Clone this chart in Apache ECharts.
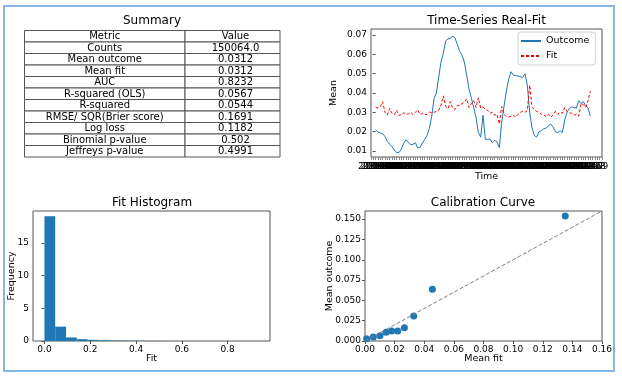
<!DOCTYPE html>
<html>
<head>
<meta charset="utf-8">
<script src="https://cdn.jsdelivr.net/npm/echarts@6/dist/echarts.min.js"></script>
<style>
  html, body { margin: 0; padding: 0; background: #fff; }
  #chart { width: 622px; height: 377px; }
</style>
</head>
<body>
<div id="chart"></div>
<script>
// summary table
var metricNames = ["Metric", "Counts", "Mean outcome", "Mean fit", "AUC", "R-squared (OLS)", "R-squared",
  "RMSE/ SQR(Brier score)", "Log loss", "Binomial p-value", "Jeffreys p-value"];
var metricValues = ["Value", "150064.0", "0.0312", "0.0312", "0.8232", "0.0567", "0.0544",
  "0.1691", "0.1182", "0.502", "0.4991"];

// time series (monthly buckets)
var tsDates = [
  "2016-01","2016-02","2016-03","2016-04","2016-05","2016-06","2016-07","2016-08","2016-09","2016-10","2016-11","2016-12",
  "2017-01","2017-02","2017-03","2017-04","2017-05","2017-06","2017-07","2017-08","2017-09","2017-10","2017-11","2017-12",
  "2018-01","2018-02","2018-03","2018-04","2018-05","2018-06","2018-07","2018-08","2018-09","2018-10","2018-11","2018-12",
  "2019-01","2019-02","2019-03","2019-04","2019-05","2019-06","2019-07","2019-08","2019-09","2019-10","2019-11","2019-12",
  "2020-01","2020-02","2020-03","2020-04","2020-05","2020-06","2020-07","2020-08","2020-09","2020-10","2020-11","2020-12",
  "2021-01","2021-02","2021-03","2021-04","2021-05","2021-06","2021-07","2021-08","2021-09","2021-10","2021-11","2021-12",
  "2022-01","2022-02","2022-03","2022-04","2022-05","2022-06","2022-07","2022-08","2022-09","2022-10","2022-11","2022-12",
  "2023-01","2023-02","2023-03","2023-04","2023-05","2023-06","2023-07","2023-08","2023-09"
];
var tsOutcome = [
  0.0209,0.0198,0.0193,0.0190,0.0174,0.0150,0.0135,0.0122,0.0105,0.0092,
  0.0093,0.0108,0.0140,0.0158,0.0145,0.0132,0.0135,0.0143,0.0117,0.0118,
  0.0140,0.0160,0.0180,0.0217,0.0277,0.0370,0.0400,0.0480,0.0560,0.0605,
  0.0670,0.0680,0.0682,0.0695,0.0685,0.0650,0.0615,0.0595,0.0560,0.0493,
  0.0420,0.0375,0.0325,0.0275,0.0195,0.0172,0.0285,0.0160,0.0160,0.0162,
  0.0142,0.0155,0.0148,0.0117,0.0250,0.0330,0.0410,0.0470,0.0510,0.0492,
  0.0490,0.0488,0.0485,0.0480,0.0500,0.0440,0.0300,0.0220,0.0180,0.0172,
  0.0200,0.0205,0.0215,0.0218,0.0230,0.0240,0.0225,0.0200,0.0195,0.0205,
  0.0195,0.0260,0.0300,0.0320,0.0328,0.0325,0.0322,0.0360,0.0345,0.0355,
  0.0335,0.0322,0.0280
];
var tsFit = [
  0.0326,0.0321,0.0330,0.0355,0.0300,0.0286,0.0320,0.0295,0.0288,0.0310,
  0.0283,0.0288,0.0298,0.0290,0.0292,0.0300,0.0288,0.0300,0.0312,0.0288,
  0.0295,0.0290,0.0288,0.0302,0.0298,0.0300,0.0305,0.0310,0.0338,0.0385,
  0.0330,0.0320,0.0355,0.0322,0.0315,0.0335,0.0335,0.0345,0.0352,0.0370,
  0.0325,0.0345,0.0360,0.0325,0.0375,0.0322,0.0328,0.0315,0.0310,0.0295,
  0.0300,0.0285,0.0290,0.0240,0.0330,0.0290,0.0278,0.0275,0.0280,0.0285,
  0.0275,0.0290,0.0300,0.0305,0.0300,0.0310,0.0440,0.0330,0.0315,0.0305,
  0.0300,0.0290,0.0288,0.0278,0.0290,0.0275,0.0285,0.0305,0.0290,0.0300,
  0.0295,0.0325,0.0305,0.0298,0.0295,0.0285,0.0290,0.0280,0.0345,0.0340,
  0.0325,0.0360,0.0410
];
var tsYTicks = [0.01, 0.02, 0.03, 0.04, 0.05, 0.06, 0.07];

// fit histogram (density)
var histEdges = [0, 0.047, 0.094, 0.141, 0.188, 0.235, 0.282, 0.329, 0.376, 0.423, 0.47,
  0.517, 0.564, 0.611, 0.658, 0.705, 0.752, 0.799, 0.846, 0.893, 0.94];
var histHeights = [19.1, 2.2, 0.55, 0.28, 0.17, 0.11, 0.07, 0.05, 0.03, 0.02,
  0.015, 0.01, 0.008, 0.005, 0.004, 0.003, 0.002, 0.002, 0.001, 0.002];
var histXTicks = [0, 0.2, 0.4, 0.6, 0.8];
var histYTicks = [0, 5, 10, 15];

// calibration curve
var calFit = [0.0011, 0.0056, 0.0101, 0.0142, 0.0180, 0.0221, 0.0266, 0.0329, 0.0455, 0.1352];
var calOutcome = [0.0029, 0.0049, 0.0066, 0.0107, 0.0123, 0.0123, 0.0164, 0.0308, 0.0637, 0.1537];
var calYTicks = [0, 0.025, 0.05, 0.075, 0.1, 0.125, 0.15];

var FONT = "DejaVu Sans";
var BLUE = "#1f77b4";
var FRAME = "#555";

var chart = echarts.init(document.getElementById("chart"), null, { renderer: "canvas" });

function axisCommon() {
  return {
    axisLine: { show: false },
    axisTick: { show: true, length: 3, lineStyle: { color: FRAME } },
    splitLine: { show: false },
    axisLabel: { color: "#000", fontFamily: FONT, fontSize: 9, margin: 4 },
    nameMoveOverlap: false,
    nameTextStyle: { color: "#000", fontFamily: FONT, fontSize: 9.5 }
  };
}
function merge(a, b) {
  for (var k in b) {
    if (a[k] && typeof a[k] === "object" && !Array.isArray(a[k]) && typeof b[k] === "object" && !Array.isArray(b[k])) {
      merge(a[k], b[k]);
    } else {
      a[k] = b[k];
    }
  }
  return a;
}

// table + titles + outer border
var graphics = [];
graphics.push({
  type: "rect", shape: { x: 4, y: 6, width: 610, height: 365 },
  style: { fill: "none", stroke: "#86b6e6", lineWidth: 2 }, silent: true
});
var tX0 = 24.5, tX1 = 185, tX2 = 280, tY0 = 30.5, rowH = 11.5;
for (var i = 0; i < metricNames.length; i++) {
  var ry = tY0 + i * rowH;
  graphics.push({ type: "rect", shape: { x: tX0, y: ry, width: tX1 - tX0, height: rowH },
    style: { fill: "#fff", stroke: FRAME, lineWidth: 1 }, silent: true });
  graphics.push({ type: "rect", shape: { x: tX1, y: ry, width: tX2 - tX1, height: rowH },
    style: { fill: "#fff", stroke: FRAME, lineWidth: 1 }, silent: true });
  graphics.push({ type: "text", x: (tX0 + tX1) / 2, y: ry + rowH / 2 + 0.5,
    style: { text: metricNames[i], align: "center", verticalAlign: "middle", fontFamily: FONT, fontSize: 10, fill: "#000" } });
  graphics.push({ type: "text", x: (tX1 + tX2) / 2 + 3, y: ry + rowH / 2 + 0.5,
    style: { text: metricValues[i], align: "center", verticalAlign: "middle", fontFamily: FONT, fontSize: 10, fill: "#000" } });
}
var titles = [["Summary", 152, 21], ["Time-Series Real-Fit", 486.5, 21], ["Fit Histogram", 152, 203], ["Calibration Curve", 483, 203]];
titles.forEach(function(t) {
  graphics.push({ type: "text", x: t[1], y: t[2],
    style: { text: t[0], align: "center", verticalAlign: "middle", fontFamily: FONT, fontSize: 12, fill: "#000" } });
});

var option = {
  animation: false,
  backgroundColor: "#fff",
  textStyle: { fontFamily: FONT },
  grid: [
    { left: 371, top: 29, width: 231, height: 128, show: true, borderColor: FRAME, borderWidth: 1, outerBoundsMode: "none" },
    { left: 33, top: 211, width: 237, height: 130, show: true, borderColor: FRAME, borderWidth: 1, outerBoundsMode: "none" },
    { left: 365, top: 211, width: 237, height: 130, show: true, borderColor: FRAME, borderWidth: 1, outerBoundsMode: "none" }
  ],
  xAxis: [
    merge(axisCommon(), {
      type: "value", gridIndex: 0, min: -2, max: 97, interval: 1,
      name: "Time", nameLocation: "middle", nameGap: 15,
      axisTick: { lineStyle: { color: "#888" } },
      axisLabel: {
        fontSize: 8.5, margin: 5,
        formatter: function(v) { return tsDates[v] || ""; }
      }
    }),
    merge(axisCommon(), {
      type: "value", gridIndex: 1, min: -0.05, max: 0.985,
      name: "Fit", nameLocation: "middle", nameGap: 13,
      axisTick: { customValues: histXTicks },
      axisLabel: { customValues: histXTicks, formatter: function(v) { return v.toFixed(1); } }
    }),
    merge(axisCommon(), {
      type: "value", gridIndex: 2, min: 0, max: 0.16, interval: 0.02,
      name: "Mean fit", nameLocation: "middle", nameGap: 13,
      axisLabel: { formatter: function(v) { return v.toFixed(2); } }
    })
  ],
  yAxis: [
    merge(axisCommon(), {
      type: "value", gridIndex: 0, min: 0.0069, max: 0.0731,
      name: "Mean", nameLocation: "middle", nameGap: 32,
      axisTick: { customValues: tsYTicks },
      axisLabel: { customValues: tsYTicks, formatter: function(v) { return v.toFixed(2); } }
    }),
    merge(axisCommon(), {
      type: "value", gridIndex: 1, min: 0, max: 19.9,
      name: "Frequency", nameLocation: "middle", nameGap: 16,
      axisTick: { customValues: histYTicks },
      axisLabel: { customValues: histYTicks }
    }),
    merge(axisCommon(), {
      type: "value", gridIndex: 2, min: 0, max: 0.16,
      name: "Mean outcome", nameLocation: "middle", nameGap: 30,
      axisTick: { customValues: calYTicks },
      axisLabel: { customValues: calYTicks, formatter: function(v) { return v.toFixed(3); } }
    })
  ],
  legend: {
    left: 518, top: 32, orient: "vertical", itemWidth: 20, itemHeight: 8, itemGap: 5,
    padding: [4, 6, 4, 2], backgroundColor: "#fff", borderColor: "#d0d0d0", borderWidth: 1, borderRadius: 3,
    textStyle: { fontFamily: FONT, fontSize: 9.5, color: "#000" },
    itemStyle: { opacity: 0 },
    data: ["Outcome", "Fit"]
  },
  series: [
    {
      name: "Outcome", type: "line", xAxisIndex: 0, yAxisIndex: 0, symbol: "none",
      data: tsOutcome.map(function(v, i) { return [i, v]; }),
      lineStyle: { color: BLUE, width: 1 }, itemStyle: { color: BLUE }
    },
    {
      name: "Fit", type: "line", xAxisIndex: 0, yAxisIndex: 0, symbol: "none",
      data: tsFit.map(function(v, i) { return [i, v]; }),
      lineStyle: { color: "#ff0000", width: 1, type: [3, 2] }, itemStyle: { color: "#ff0000" }
    },
    {
      type: "custom", xAxisIndex: 1, yAxisIndex: 1,
      data: histHeights.map(function(h, i) { return [histEdges[i], histEdges[i + 1], h]; }),
      encode: { x: [0, 1], y: 2 },
      renderItem: function(params, api) {
        var p0 = api.coord([api.value(0), 0]);
        var p1 = api.coord([api.value(1), api.value(2)]);
        return {
          type: "rect",
          shape: { x: p0[0], y: p1[1], width: p1[0] - p0[0], height: p0[1] - p1[1] },
          style: { fill: BLUE }
        };
      }
    },
    {
      type: "line", xAxisIndex: 2, yAxisIndex: 2, symbol: "none",
      data: [[0, 0], [0.16, 0.16]],
      lineStyle: { color: "#808080", width: 1, type: [4, 2] }
    },
    {
      type: "scatter", xAxisIndex: 2, yAxisIndex: 2, symbolSize: 7,
      data: calFit.map(function(v, i) { return [v, calOutcome[i]]; }),
      itemStyle: { color: BLUE, opacity: 1 }
    }
  ],
  graphic: graphics
};
chart.setOption(option);
</script>
</body>
</html>
